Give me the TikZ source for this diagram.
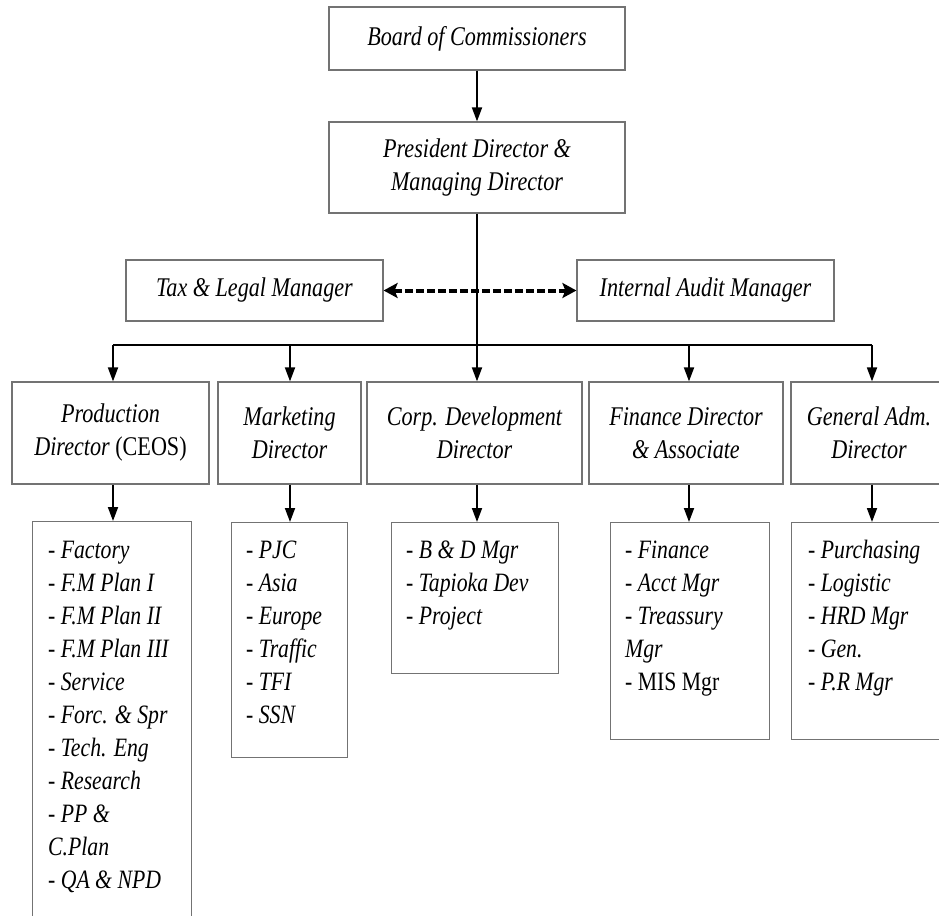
\documentclass[tikz,border=0pt]{standalone}
\usepackage{fontspec}
\setmainfont[FakeStretch=0.82]{Liberation Serif}
\usetikzlibrary{arrows.meta}
\definecolor{boxgray}{RGB}{115,115,115}
\newcommand\orgfont{\fontsize{27}{33}\selectfont\itshape}
\newcommand\orglistfont{\fontsize{26.5}{33}\selectfont\itshape}
\begin{document}
\begin{tikzpicture}[x=1pt,y=-1pt,
  box/.style={draw=boxgray, line width=1.2pt, inner sep=0pt, align=center, font=\orgfont},
  listbox/.style={draw=boxgray, line width=1.2pt, inner sep=0pt, anchor=north west},
  listtext/.style={anchor=base west, inner sep=0pt, font=\orglistfont},
  arr/.style={line width=1.8pt, -{Triangle[length=14pt,width=10pt]}},
  bus/.style={line width=1.8pt},
  dasharr/.style={line width=4pt, dash pattern=on 8pt off 3pt, {Stealth[length=14pt,width=15pt,inset=3pt]}-{Stealth[length=14pt,width=15pt,inset=3pt]}}]
\clip (0,0) rectangle (939,915);
\fill[white] (0,0) rectangle (939,915);

% top boxes
\node[box, minimum width=296pt, minimum height=63pt] (board) at (477,38.5) {Board of Commissioners};
\node[box, minimum width=296pt, minimum height=91pt] (pres) at (477,167.5) {President Director \&\\Managing Director};
\node[box, minimum width=257pt, minimum height=61pt] (tax) at (254.5,290.5) {Tax \& Legal Manager};
\node[box, minimum width=257pt, minimum height=61pt] (audit) at (705.5,290.5) {Internal Audit Manager};

% level boxes
\node[box, minimum width=197pt, minimum height=102pt] (prod) at (110.5,433) {Production\\Director \textup{(CEOS)}};
\node[box, minimum width=143pt, minimum height=102pt] (mkt) at (289.5,433) {Marketing\\Director};
\node[box, minimum width=215pt, minimum height=102pt] (corp) at (474.5,433) {Corp. Development\\Director};
\node[box, minimum width=194pt, minimum height=102pt] (fin) at (686,433) {Finance Director\\\& Associate};
\node[box, minimum width=156pt, minimum height=102pt] (gen) at (869,433) {General Adm.\\Director};

% list boxes
\node[listbox, minimum width=159pt, minimum height=409pt] (prodL) at (32,521) {};
\node[listbox, minimum width=116pt, minimum height=235pt] (mktL) at (231,522) {};
\node[listbox, minimum width=167pt, minimum height=151pt] (corpL) at (391,522) {};
\node[listbox, minimum width=159pt, minimum height=217pt] (finL) at (610,522) {};
\node[listbox, minimum width=159pt, minimum height=217pt] (genL) at (791,522) {};

% list texts
\node[listtext] (prodT) at (48,558) {\parbox[t]{200pt}{\raggedright
- Factory\\- F.M Plan I\\- F.M Plan II\\- F.M Plan III\\- Service\\- Forc. \& Spr\\- Tech. Eng\\- Research\\- PP \&\\C.Plan\\- QA \& NPD}};
\node[listtext] (mktT) at (246,558) {\parbox[t]{150pt}{\raggedright
- PJC\\- Asia\\- Europe\\- Traffic\\- TFI\\- SSN}};
\node[listtext] (corpT) at (406,558) {\parbox[t]{200pt}{\raggedright
- B \& D Mgr\\- Tapioka Dev\\- Project}};
\node[listtext] (finT) at (625,558) {\parbox[t]{200pt}{\raggedright
- Finance\\- Acct Mgr\\- Treassury\\Mgr\\\textup{- MIS Mgr}}};
\node[listtext] (genT) at (808,558) {\parbox[t]{200pt}{\raggedright
- Purchasing\\- Logistic\\- HRD Mgr\\- Gen.\\- P.R Mgr}};

% bus coordinates
\coordinate (b1) at (113,345);
\coordinate (b2) at (290,345);
\coordinate (b4) at (689,345);
\coordinate (b5) at (872,345);

% connectors
\draw[arr] (board) -- (pres);
\draw[arr] (pres.south) -- (pres.south |- corp.north);
\draw[bus] (b1) -- (b5);
\draw[arr] (b1) -- (b1 |- prod.north);
\draw[arr] (b2) -- (b2 |- mkt.north);
\draw[arr] (b4) -- (b4 |- fin.north);
\draw[arr] (b5) -- (b5 |- gen.north);
\draw[dasharr] (tax.east) -- (audit.west);

\draw[arr] (prod.south -| b1) -- (prodL.north -| b1);
\draw[arr] (mkt.south -| b2) -- (mktL.north -| b2);
\draw[arr] (corp.south -| pres.south) -- (corpL.north -| pres.south);
\draw[arr] (fin.south -| b4) -- (finL.north -| b4);
\draw[arr] (gen.south -| b5) -- (genL.north -| b5);
\end{tikzpicture}
\end{document}
